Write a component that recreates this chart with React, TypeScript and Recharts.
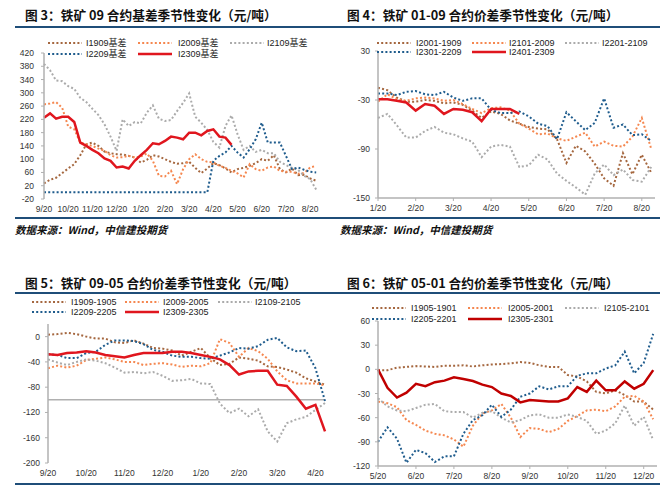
import { LineChart, Line, XAxis, YAxis, ReferenceLine } from 'recharts'

// colours
const BROWN = '#A5673F'
const ORANGE = '#F5874F'
const GRAY = '#ABABAB'
const BLUE = '#1F5C8D'
const RED = '#E0161E'
const DARK_RED = '#C00000'
const RULE = '#1F4E79'

// ---- 图3: 09 basis, one row per quarter month from 9/20 ----
const c1Months = ['9/20', '10/20', '11/20', '12/20', '1/20', '2/20', '3/20', '4/20', '5/20', '6/20', '7/20', '8/20']
const c1Names = ['I1909基差', 'I2009基差', 'I2109基差', 'I2209基差', 'I2309基差']
const c1I1909 = [27, 38, 44, 58, 72, 85, 112, 145, 150, 140, 123, 118, 115, 114, 110, 105, 90, 98, 112, 108, 100, 92, 86, 88, 92, 74, 58, 72, 88, 82, 72, 60, 70, 74, 80, 88, 100, 95, 112, 70, 60, 72, 52, 53, 42, 35]
const c1I2009 = [265, 268, 272, 255, 198, 190, 150, 145, 140, 132, 125, 112, 105, 106, 110, 105, 108, 117, 95, 50, 48, 65, 25, 70, 100, 115, 100, 92, 90, 80, 74, 65, 57, 45, 85, 70, 65, 75, 78, 65, 62, 62, 56, 58, 75, 80]
const c1I2109 = [387, 368, 337, 335, 320, 312, 285, 272, 252, 233, 205, 168, 125, 220, 200, 212, 208, 240, 262, 222, 215, 218, 245, 270, 298, 228, 210, 188, 152, 135, 200, 232, 175, 128, 140, 122, 128, 118, 118, 92, 82, 74, 68, 50, 40, 8]
const c1I2209 = [0, 0, 0, 0, 0, 0, 0, 0, 0, 0, 0, 0, 0, 0, 0, 0, 0, 0, 0, 0, 0, 0, 0, 0, 0, 0, 0, 0, 95, 110, 120, 140, 120, 105, 130, 160, 210, 150, 150, 150, 110, 70, 75, 68, 62, 60]
const c1I2309 = [225, 238, 222, 228, 228, 212, 150, 140, 128, 118, 102, 95, 75, 78, 72, 95, 112, 128, 148, 145, 155, 168, 165, 160, 180, 180, 172, 185, 190, 168, 165, 143, null, null, null, null, null, null, null, null, null, null, null, null, null, null]

// ---- 图4: 01-09 spread ----
const c2Months = ['1/20', '2/20', '3/20', '4/20', '5/20', '6/20', '7/20', '8/20']
const c2Names = ['I2001-1909', 'I2101-2009', 'I2201-2109', 'I2301-2209', 'I2401-2309']
const c2S2001 = [-15, -18, -27, -32, -32, -30, -31, -34, -33, -36, -43, -52, -44, -47, -55, -59, -63, -65, -66, -78, -107, -86, -93, -108, -126, -135, -95, -121, -97, -119]
const c2S2101 = [-32, -23, -29, -31, -28, -27, -28, -31, -30, -35, -41, -46, -40, -39, -43, -59, -65, -72, -71, -77, -80, -75, -70, -87, -81, -86, -87, -75, -52, -90]
const c2S2201 = [-52, -47, -61, -76, -76, -68, -63, -70, -72, -77, -81, -100, -87, -85, -87, -112, -110, -97, -103, -120, -129, -137, -146, -120, -109, -122, -115, -128, -130, -112]
const c2S2301 = [-22, -22, -24, -20, -19, -23, -24, -20, -27, -31, -28, -28, -42, -46, -46, -44, -50, -59, -62, -78, -45, -56, -67, -58, -28, -64, -60, -73, -72, -80]
const c2S2401 = [-29, -29, -31, -33, -43, -35, -37, -47, -41, -42, -45, -56, -41, -41, -41, -47, null, null, null, null, null, null, null, null, null, null, null, null, null, null]

// ---- 图5: 09-05 spread ----
const c3Months = ['9/20', '10/20', '11/20', '12/20', '1/20', '2/20', '3/20', '4/20']
const c3Names = ['I1909-1905', 'I2009-2005', 'I2109-2105', 'I2209-2205', 'I2309-2305']
const c3S1909 = [3, 4, 6, 4, 0, -3, -3, -9, -10, -6, -11, -18, -19, -22, -30, -24, -18, -34, -45, -43, -33, -35, -38, -47, -48, -52, -57, -66, -71, -76]
const c3S2009 = [-50, -46, -49, -46, -37, -35, -33, -36, -40, -40, -45, -43, -42, -44, -48, -46, -47, -42, -4, -10, -32, -18, -23, -35, -55, -69, -74, -74, -74, -77]
const c3S2109 = [-36, -41, -45, -40, -36, -38, -42, -49, -57, -56, -58, -56, -62, -70, -69, -67, -74, -75, -106, -121, -114, -126, -115, -150, -166, -137, -131, -127, -116, -105]
const c3S2209 = [-28, -29, -34, -34, -26, -24, -13, -6, -6, -7, -12, -21, -24, -30, -32, -32, -34, -35, -30, -25, -18, -19, -15, -5, -2, -17, -23, -22, -50, -102]
const c3S2309 = [-28, -29, -26, -25, -23, -25, -29, -31, -33, -29, -26, -26, -26, -24, -24, -26, -29, -32, -36, -45, -60, -55, -54, -54, -76, -78, -95, -114, -108, -150]

// ---- 图6: 05-01 spread ----
const c4Months = ['5/20', '6/20', '7/20', '8/20', '9/20', '10/20', '11/20', '12/20']
const c4Names = ['I1905-1901', 'I2005-2001', 'I2105-2101', 'I2205-2201', 'I2305-2301']
const c4S1905 = [-1, -1, 2, 3, 4, 3.5, 3, 4.5, 4.5, 5, 3.5, 5, 6, 6.5, 7.5, 9, 8, 5, 3, 3, -7, -9, -15, -28, -30, -26, -32, -40, -40, -50]
const c4S2005 = [-40, -42, -47, -63, -69, -76, -80, -82, -87, -96, -70, -55, -51, -43, -60, -84, -73, -74, -78, -74, -64, -58, -51, -50, -52, -46, -34, -33, -40, -62]
const c4S2105 = [-36, -46, -51, -52, -48, -44, -43, -52, -53, -53, -60, -54, -52, -60, -66, -63, -57, -56, -60, -60, -56, -59, -64, -80, -76, -67, -45, -70, -59, -88]
const c4S2205 = [-90, -72, -86, -116, -100, -104, -115, -108, -108, -80, -63, -57, -44, -59, -50, -34, -30, -21, -25, -21, -21, -8, -5, -5, 1, 5, 22, -5, 8, 44]
const c4S2305 = [0, -23, -35, -29, -18, -21, -16, -14, -10, -12, -14.5, -19, -22, -30, -33, -41, -38, -39, -40, -40, -36, -22, -28, -14, -26, -26, -15, -24, -18, -1]

const tickFont = { fontSize: 8.5, fill: '#333', fontFamily: "'Liberation Sans', Arial, sans-serif" }

type Series = (number | null)[]

type ChartProps = {
  left: number
  top: number
  width: number
  height: number
  margin: { top: number; right: number; bottom: number; left: number }
  yWidth: number
  yMargin: number
  yDomain: [number, number]
  yTicks: number[]
  months: string[]
  xMax: number
  xHeight: number
  xLine: boolean
  series: Series[]
  colors: string[]
  refY?: number
}

function SeasonChart(props: ChartProps) {
  const { series, months, colors } = props
  const rows = series[0].map((_, i) => {
    const row: Record<string, number | null> = { i }
    series.forEach((s, k) => {
      row['s' + k] = s[i]
    })
    return row
  })
  const xTicks = months.map((_, k) => k * 4)
  return (
    <div style={{ position: 'absolute', left: props.left, top: props.top }}>
      <LineChart width={props.width} height={props.height} data={rows} margin={props.margin}>
        <XAxis
          type="number"
          dataKey="i"
          domain={[0, props.xMax]}
          ticks={xTicks}
          interval={0}
          tickFormatter={(v) => months[Math.round(v / 4)]}
          axisLine={props.xLine ? { stroke: '#B0B0B0', strokeWidth: 1.5 } : false}
          tickLine={props.xLine ? { stroke: '#B0B0B0' } : false}
          tickSize={3}
          tickMargin={4}
          height={props.xHeight}
          tick={tickFont}
        />
        <YAxis
          domain={props.yDomain}
          ticks={props.yTicks}
          interval={0}
          width={props.yWidth}
          axisLine={{ stroke: '#B0B0B0', strokeWidth: 1.5 }}
          tickLine={{ stroke: '#B0B0B0' }}
          tickSize={3}
          tickMargin={props.yMargin}
          tick={tickFont}
        />
        {props.refY !== undefined && <ReferenceLine y={props.refY} stroke="#B0B0B0" strokeWidth={1.5} />}
        {series.map((_, k) => (
          <Line
            key={k}
            type="linear"
            dataKey={'s' + k}
            stroke={colors[k]}
            strokeWidth={k === 4 ? 2.5 : 2}
            strokeDasharray={k === 4 ? undefined : '2 2.2'}
            dot={false}
            isAnimationActive={false}
          />
        ))}
      </LineChart>
    </div>
  )
}

type LegendProps = {
  names: string[]
  colors: string[]
  sampleX: number[]
  textX: number[]
  rowY: number[]
}

function LegendBlock({ names, colors, sampleX, textX, rowY }: LegendProps) {
  return (
    <g>
      {names.map((name, k) => {
        const col = k % 3
        const y = rowY[Math.floor(k / 3)]
        return (
          <g key={name}>
            <line
              x1={sampleX[col]}
              x2={sampleX[col] + 34}
              y1={y}
              y2={y}
              stroke={colors[k]}
              strokeWidth={k === 4 ? 2.5 : 2}
              strokeDasharray={k === 4 ? undefined : '2 2.2'}
            />
            <text
              x={textX[col]}
              y={y}
              dy="0.35em"
              fontSize={9}
              fill="#222"
              fontFamily="'Liberation Sans', Arial, 'Noto Sans CJK SC', sans-serif"
            >
              {name}
            </text>
          </g>
        )
      })}
    </g>
  )
}

const titleStyle = {
  position: 'absolute' as const,
  fontFamily: "'Noto Sans CJK SC', sans-serif",
  fontWeight: 700,
  fontSize: 12.7,
  lineHeight: '16px',
  color: '#111',
  whiteSpace: 'nowrap' as const,
}

const footStyle = {
  position: 'absolute' as const,
  fontFamily: "'Noto Sans CJK SC', serif",
  fontWeight: 700,
  fontStyle: 'italic',
  fontSize: 10.5,
  lineHeight: '14px',
  color: '#111',
  whiteSpace: 'nowrap' as const,
}

function Rule({ x1, x2, y }: { x1: number; x2: number; y: number }) {
  return <div style={{ position: 'absolute', left: x1, top: y - 1, width: x2 - x1, height: 2, background: RULE }} />
}

export default function App() {
  const base = [BROWN, ORANGE, GRAY, BLUE, RED]
  const c4Colors = [BROWN, ORANGE, GRAY, BLUE, DARK_RED]
  return (
    <div style={{ position: 'relative', width: 669, height: 485, background: '#fff', overflow: 'hidden' }}>
      <style>{'body{margin:0}'}</style>

      <div style={{ ...titleStyle, left: 25, top: 7 }}>图 3：铁矿 09 合约基差季节性变化（元/吨）</div>
      <div style={{ ...titleStyle, left: 347, top: 7 }}>图 4：铁矿 01-09 合约价差季节性变化（元/吨）</div>
      <div style={{ ...titleStyle, left: 25, top: 275 }}>图 5：铁矿 09-05 合约价差季节性变化（元/吨）</div>
      <div style={{ ...titleStyle, left: 347, top: 275 }}>图 6：铁矿 05-01 合约价差季节性变化（元/吨）</div>

      <Rule x1={15} x2={335} y={27} />
      <Rule x1={335} x2={660} y={27} />
      <Rule x1={15} x2={335} y={218} />
      <Rule x1={335} x2={660} y={218} />
      <Rule x1={15} x2={335} y={293} />
      <Rule x1={335} x2={660} y={293} />
      <Rule x1={15} x2={335} y={484} />
      <Rule x1={335} x2={660} y={484} />

      <div style={{ ...footStyle, left: 15, top: 223 }}>数据来源：Wind，中信建投期货</div>
      <div style={{ ...footStyle, left: 340, top: 223 }}>数据来源：Wind，中信建投期货</div>

      <SeasonChart
        left={0}
        top={0}
        width={335}
        height={220}
        margin={{ top: 53, right: 17, bottom: 1, left: 8 }}
        yWidth={36}
        yMargin={7}
        yDomain={[-20, 420]}
        yTicks={[-20, 20, 60, 100, 140, 180, 220, 260, 300, 340, 380, 420]}
        months={c1Months}
        xMax={45.3}
        xHeight={20}
        xLine={false}
        series={[c1I1909, c1I2009, c1I2109, c1I2209, c1I2309]}
        colors={base}
      />
      <SeasonChart
        left={335}
        top={0}
        width={334}
        height={220}
        margin={{ top: 51, right: 14, bottom: 2, left: 7 }}
        yWidth={36}
        yMargin={5}
        yDomain={[-150, 30]}
        yTicks={[-150, -90, -30, 30]}
        months={c2Months}
        xMax={29.4}
        xHeight={20}
        xLine={true}
        series={[c2S2001, c2S2101, c2S2201, c2S2301, c2S2401]}
        colors={base}
      />
      <SeasonChart
        left={0}
        top={240}
        width={335}
        height={245}
        margin={{ top: 84, right: 10, bottom: 2, left: 10 }}
        yWidth={38}
        yMargin={5}
        yDomain={[-200, 20]}
        yTicks={[-200, -160, -120, -80, -40, 0]}
        months={c3Months}
        xMax={29}
        xHeight={20}
        xLine={false}
        series={[c3S1909, c3S2009, c3S2109, c3S2209, c3S2309]}
        colors={base}
        refY={-100}
      />
      <SeasonChart
        left={335}
        top={240}
        width={334}
        height={245}
        margin={{ top: 81, right: 12, bottom: 1, left: 7 }}
        yWidth={36}
        yMargin={5}
        yDomain={[-120, 60]}
        yTicks={[-120, -90, -60, -30, 0, 30, 60]}
        months={c4Months}
        xMax={29.4}
        xHeight={18}
        xLine={true}
        series={[c4S1905, c4S2005, c4S2105, c4S2205, c4S2305]}
        colors={c4Colors}
      />

      <svg width={669} height={485} style={{ position: 'absolute', left: 0, top: 0, pointerEvents: 'none' }}>
        <LegendBlock names={c1Names} colors={base} sampleX={[48, 138, 230]} textX={[86, 178, 267]} rowY={[43, 54]} />
        <LegendBlock names={c2Names} colors={base} sampleX={[377, 472, 565]} textX={[416, 509, 602]} rowY={[43, 52]} />
        <LegendBlock names={c3Names} colors={base} sampleX={[32, 125, 218]} textX={[71, 163, 255]} rowY={[302, 312]} />
        <LegendBlock names={c4Names} colors={c4Colors} sampleX={[372, 468, 565]} textX={[411, 508, 604]} rowY={[308, 319]} />
      </svg>
    </div>
  )
}
